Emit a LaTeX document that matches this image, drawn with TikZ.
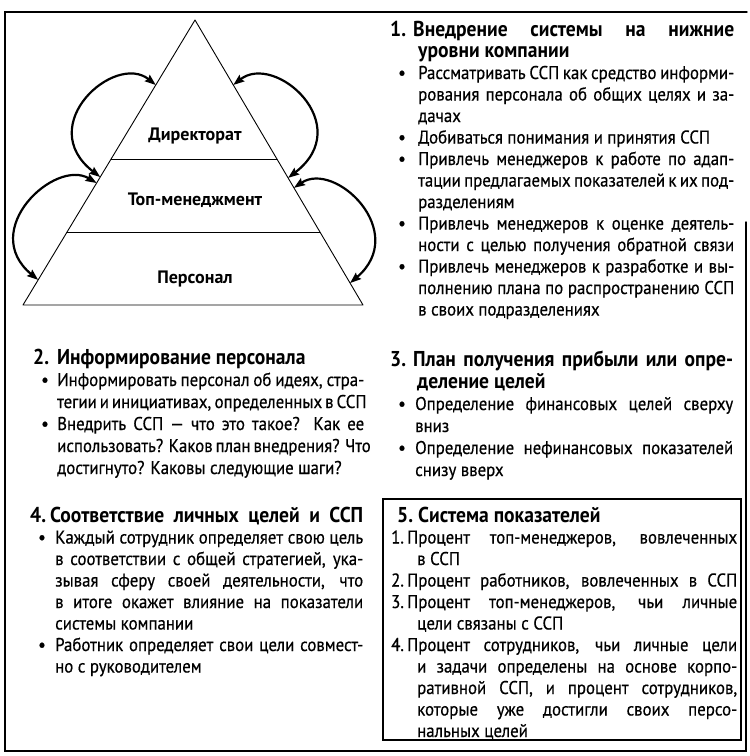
\documentclass[tikz,border=0pt]{standalone}
\usepackage{fontspec}
\setmainfont{PT Sans}[FakeStretch=0.91,UprightFeatures={FakeBold=0.5}]
\newfontfamily\pyrfont{PT Sans}
\usetikzlibrary{arrows.meta,calc}
\newcommand\lnj[4]{\hbox{\hbox to #1{#2\hfil}\hbox to #3{#4}}}
\newcommand\lnr[4]{\hbox{\hbox to #1{#2\hfil}\hbox to #3{#4\hfil}}}
\newcommand\bul{\hskip8pt\textbullet}
\newcommand\hd{\fontsize{21.5}{22}\selectfont\bfseries}
\newcommand\bodyA{\fontsize{18.5}{21.5}\selectfont\lineskiplimit=-100pt}
\newcommand\bodyB{\fontsize{18.5}{22}\selectfont\lineskiplimit=-100pt}
\begin{document}
\begin{tikzpicture}[x=1pt,y=-1pt,
  frame/.style={line width=1.4pt,line cap=round},
  pyr/.style={line width=0.9pt,line join=round},
  lvl/.style={font=\pyrfont\bfseries\fontsize{18}{20}\selectfont,inner sep=0pt,anchor=base},
  txt/.style={inner sep=0pt,anchor=base west},
  cyc/.style={line width=2.2pt,{Stealth[length=11pt,width=8pt,inset=1.5pt]}-{Stealth[length=11pt,width=8pt,inset=1.5pt]}}]
\useasboundingbox (0,0) rectangle (750,756);
\fill[white] (0,0) rectangle (750,756);
% outer frame
\coordinate (ftl) at (5,12);
\coordinate (ftr) at (747,12);
\coordinate (fbl) at (5,751);
\coordinate (fbr) at (746,751);
\coordinate (frs) at (746,222);
\draw[frame] (ftr) -- (ftl) -- (fbl) -- (fbr) -- (frs);
% pyramid
\coordinate (apex) at (195,20);
\coordinate (bl) at (23,305);
\coordinate (br) at (363,305);
\draw[pyr] (apex) -- (bl) -- (br) -- cycle;
\coordinate (d1l) at ($(apex)!0.491!(bl)$);
\coordinate (d1r) at ($(apex)!0.491!(br)$);
\coordinate (d2l) at ($(apex)!0.747!(bl)$);
\coordinate (d2r) at ($(apex)!0.747!(br)$);
\draw[pyr] (d1l) -- (d1r);
\draw[pyr] (d2l) -- (d2r);
\node[lvl] (dir) at (195,140) {Директорат};
\node[lvl] (top) at (195,205) {Топ-менеджмент};
\node[lvl] (per) at (195,283) {Персонал};
% cycle arrows
\coordinate (lu1) at ($(apex)!0.228!(bl)$);
\coordinate (lu2) at ($(apex)!0.551!(bl)$);
\coordinate (ll1) at ($(apex)!0.572!(bl)$);
\coordinate (ll2) at ($(apex)!0.912!(bl)$);
\coordinate (ru1) at ($(apex)!0.228!(br)$);
\coordinate (ru2) at ($(apex)!0.554!(br)$);
\coordinate (rl1) at ($(apex)!0.589!(br)$);
\coordinate (rl2) at ($(apex)!0.923!(br)$);
\draw[cyc] (lu1) .. controls (115,52) and (33,125) .. (lu2);
\draw[cyc] (ll1) .. controls (55,158) and (-22,230) .. (ll2);
\draw[cyc] (ru1) .. controls (275,52) and (357,125) .. (ru2);
\draw[cyc] (rl1) .. controls (335,160) and (410,232) .. (rl2);
% section 1
\node[txt] (s1) at (390,36) {\vtop{\bodyA
\lnj{23pt}{\hd 1.}{321pt}{\hd Внедрение системы на нижние}
\lnr{28pt}{}{316pt}{\hd уровни компании}
\lnj{28pt}{\bul}{316pt}{Рассматривать ССП как средство информи-}
\lnj{28pt}{}{316pt}{рования персонала об общих целях и за-}
\lnr{28pt}{}{316pt}{дачах}
\lnr{28pt}{\bul}{316pt}{Добиваться понимания и принятия ССП}
\lnj{28pt}{\bul}{316pt}{Привлечь менеджеров к работе по адап-}
\lnj{28pt}{}{316pt}{тации предлагаемых показателей к их под-}
\lnr{28pt}{}{316pt}{разделениям}
\lnj{28pt}{\bul}{316pt}{Привлечь менеджеров к оценке деятель-}
\lnj{28pt}{}{316pt}{ности с целью получения обратной связи}
\lnj{28pt}{\bul}{316pt}{Привлечь менеджеров к разработке и вы-}
\lnj{28pt}{}{316pt}{полнению плана по распространению ССП}
\lnr{28pt}{}{316pt}{в своих подразделениях}
}};
% section 2
\node[txt] (s2) at (33,364) {\vtop{\bodyB
\lnr{24pt}{\hd 2.}{307pt}{\hd Информирование персонала}
\lnj{24pt}{\bul}{307pt}{Информировать персонал об идеях, стра-}
\lnj{24pt}{}{307pt}{тегии и инициативах, определенных в ССП}
\lnj{24pt}{\bul}{307pt}{Внедрить ССП — что это такое? Как ее}
\lnj{24pt}{}{307pt}{использовать? Каков план внедрения? Что}
\lnr{24pt}{}{307pt}{достигнуто? Каковы следующие шаги?}
}};
% section 3
\node[txt] (s3) at (390,366) {\vtop{\bodyB
\lnj{23pt}{\hd 3.}{320pt}{\hd План получения прибыли или опре-}
\lnr{27pt}{}{316pt}{\hd деление целей}
\lnj{25pt}{\bul}{318pt}{Определение финансовых целей сверху}
\lnr{25pt}{}{318pt}{вниз}
\lnj{25pt}{\bul}{318pt}{Определение нефинансовых показателей}
\lnr{25pt}{}{318pt}{снизу вверх}
}};
% section 4
\node[txt] (s4) at (30,522) {\vtop{\bodyA
\lnj{20pt}{\hd 4.}{313pt}{\hd Соответствие личных целей и ССП}
\lnj{25pt}{\bul}{308pt}{Каждый сотрудник определяет свою цель}
\lnj{25pt}{}{308pt}{в соответствии с общей стратегией, ука-}
\lnj{25pt}{}{308pt}{зывая сферу своей деятельности, что}
\lnj{25pt}{}{308pt}{в итоге окажет влияние на показатели}
\lnr{25pt}{}{308pt}{системы компании}
\lnj{25pt}{\bul}{308pt}{Работник определяет свои цели совмест-}
\lnr{25pt}{}{308pt}{но с руководителем}
}};
% section 5
\coordinate (b5a) at (383,499);
\coordinate (b5b) at (741,740);
\draw[line width=1.3pt] (b5a) rectangle (b5b);
\node[txt] (s5) at (391,522) {\vtop{\bodyA
\lnr{27pt}{\hskip6pt\hd 5.}{318pt}{\hd Система показателей}
\lnj{16pt}{1.}{330pt}{Процент топ-менеджеров, вовлеченных}
\lnr{26pt}{}{320pt}{в ССП}
\lnj{16pt}{2.}{330pt}{Процент работников, вовлеченных в ССП}
\lnj{16pt}{3.}{330pt}{Процент топ-менеджеров, чьи личные}
\lnr{26pt}{}{320pt}{цели связаны с ССП}
\lnj{16pt}{4.}{330pt}{Процент сотрудников, чьи личные цели}
\lnj{26pt}{}{320pt}{и задачи определены на основе корпо-}
\lnj{26pt}{}{320pt}{ративной ССП, и процент сотрудников,}
\lnj{26pt}{}{320pt}{которые уже достигли своих персо-}
\lnr{26pt}{}{320pt}{нальных целей}
}};
\end{tikzpicture}
\end{document}
